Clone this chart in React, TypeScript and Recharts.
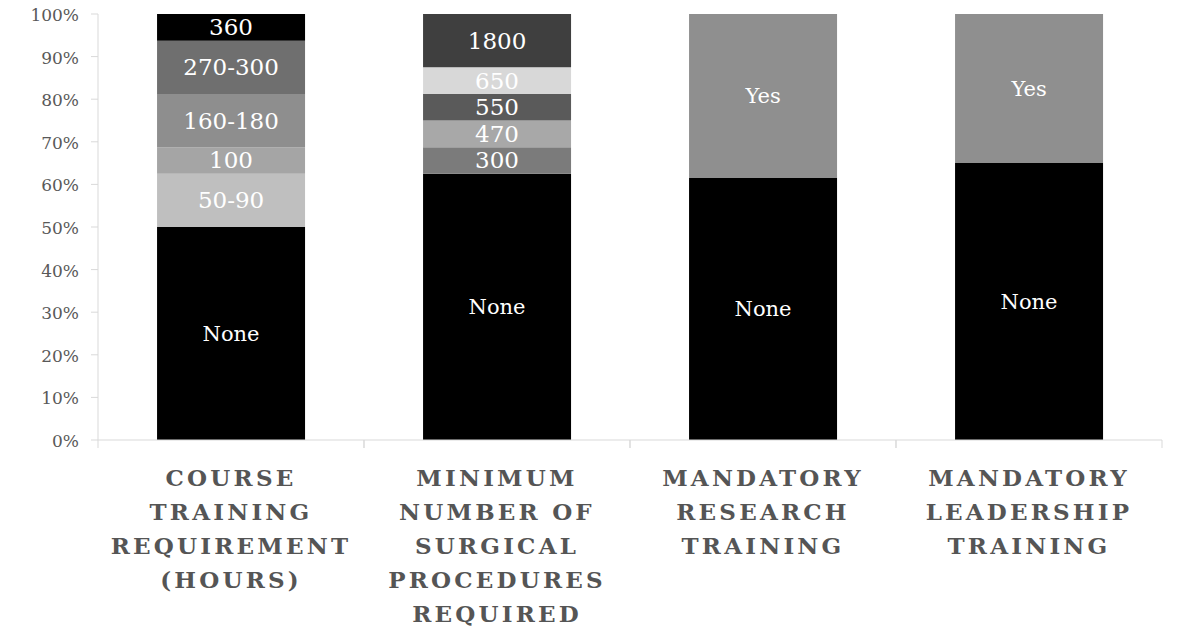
import { Bar, BarChart, Cell, LabelList, XAxis, YAxis } from "recharts";

const categories = [
  "COURSE|TRAINING|REQUIREMENT|(HOURS)",
  "MINIMUM|NUMBER OF|SURGICAL|PROCEDURES|REQUIRED",
  "MANDATORY|RESEARCH|TRAINING",
  "MANDATORY|LEADERSHIP|TRAINING",
];

// stacked segments, bottom to top (percent of countries)
const seg1 = [50, 62.5, 61.5, 65];
const seg2 = [12.5, 6.25, 38.5, 35];
const seg3 = [6.25, 6.25, 0, 0];
const seg4 = [12.5, 6.25, 0, 0];
const seg5 = [12.5, 6.25, 0, 0];
const seg6 = [6.25, 12.5, 0, 0];

const labels1 = ["None", "None", "None", "None"];
const labels2 = ["50-90", "300", "Yes", "Yes"];
const labels3 = ["100", "470", "", ""];
const labels4 = ["160-180", "550", "", ""];
const labels5 = ["270-300", "650", "", ""];
const labels6 = ["360", "1800", "", ""];

const colors1 = ["#000000", "#000000", "#000000", "#000000"];
const colors2 = ["#bfbfbf", "#7b7b7b", "#8f8f8f", "#8f8f8f"];
const colors3 = ["#a5a5a5", "#a8a8a8", "#8f8f8f", "#8f8f8f"];
const colors4 = ["#8e8e8e", "#5a5a5a", "#8f8f8f", "#8f8f8f"];
const colors5 = ["#6f6f6f", "#d8d8d8", "#8f8f8f", "#8f8f8f"];
const colors6 = ["#000000", "#3f3f3f", "#8f8f8f", "#8f8f8f"];

const yTicks = [0, 10, 20, 30, 40, 50, 60, 70, 80, 90, 100];

const segments = [
  { key: "s1", values: seg1, labels: labels1, colors: colors1 },
  { key: "s2", values: seg2, labels: labels2, colors: colors2 },
  { key: "s3", values: seg3, labels: labels3, colors: colors3 },
  { key: "s4", values: seg4, labels: labels4, colors: colors4 },
  { key: "s5", values: seg5, labels: labels5, colors: colors5 },
  { key: "s6", values: seg6, labels: labels6, colors: colors6 },
];

const data = categories.map((name, i) => {
  const row: any = { name };
  segments.forEach((s) => (row[s.key] = s.values[i]));
  return row;
});

const SERIF = '"DejaVu Serif", "Liberation Serif", serif';

function makeLabel(texts: string[]) {
  return (props: any) => {
    const { x, y, width, height, index } = props;
    const text = texts[index];
    if (!text || !height) return null;
    const isWord = /[A-Za-z]/.test(text);
    return (
      <text
        x={x + width / 2}
        y={y + height / 2}
        fill="#ffffff"
        textAnchor="middle"
        dominantBaseline="central"
        style={{ fontFamily: SERIF, fontSize: isWord ? 21 : 23 }}
      >
        {text}
      </text>
    );
  };
}

function CategoryTick(props: any) {
  const { x, y, payload } = props;
  const half = payload?.offset || 133;
  const lines = String(payload.value).split("|");
  return (
    <g>
      <line x1={x - half} y1={y} x2={x - half} y2={y + 8} stroke="#d9d9d9" />
      <line x1={x + half} y1={y} x2={x + half} y2={y + 8} stroke="#d9d9d9" />
      {lines.map((line, i) => (
        <text
          key={i}
          x={x}
          y={y + 37 + i * 34}
          textAnchor="middle"
          dominantBaseline="central"
          fill="#555555"
          style={{ fontFamily: SERIF, fontWeight: "bold", fontSize: 23, letterSpacing: 3.2 }}
        >
          {line}
        </text>
      ))}
    </g>
  );
}

function PercentTick(props: any) {
  const { x, y, payload } = props;
  return (
    <text
      x={x}
      y={y + 1}
      textAnchor="end"
      dominantBaseline="central"
      fill="#595959"
      style={{ fontFamily: SERIF, fontSize: 17 }}
    >
      {`${payload.value}%`}
    </text>
  );
}

export default function App() {
  return (
    <div style={{ position: "absolute", left: 0, top: 0, background: "#fff" }}>
      <BarChart
        width={1178}
        height={630}
        data={data}
        margin={{ top: 14, right: 16, bottom: 10, left: 0 }}
        barCategoryGap="22.2%"
      >
        <XAxis
          dataKey="name"
          height={180}
          interval={0}
          tickLine={false}
          tickSize={0}
          tickMargin={0}
          axisLine={{ stroke: "#d9d9d9" }}
          tick={<CategoryTick />}
        />
        <YAxis
          width={98}
          domain={[0, 100]}
          ticks={yTicks}
          interval={0}
          tickSize={7}
          tickMargin={12}
          axisLine={{ stroke: "#d9d9d9" }}
          tickLine={{ stroke: "#d9d9d9" }}
          tick={<PercentTick />}
        />
        {segments.map((s) => (
          <Bar key={s.key} dataKey={s.key} stackId="a" isAnimationActive={false}>
            {s.colors.map((c, i) => (
              <Cell key={i} fill={c} />
            ))}
            <LabelList dataKey={s.key} content={makeLabel(s.labels)} />
          </Bar>
        ))}
      </BarChart>
    </div>
  );
}
